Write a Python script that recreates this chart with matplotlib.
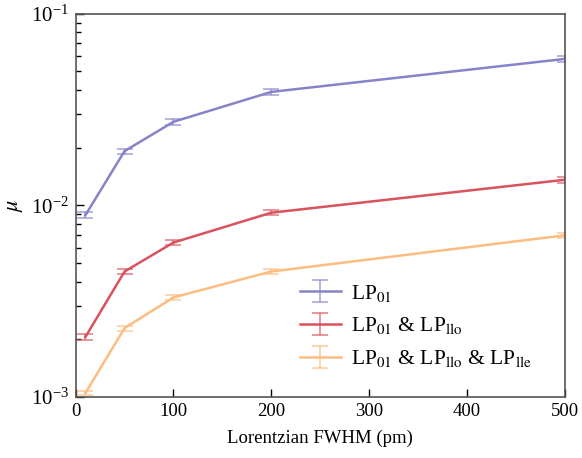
import matplotlib
matplotlib.use('Agg')
import matplotlib.pyplot as plt
import numpy as np

plt.rcParams['font.family'] = 'Liberation Serif'
plt.rcParams['mathtext.fontset'] = 'stix'
plt.rcParams['font.size'] = 13.5

# Lorentzian FWHM values (pm)
fwhm = [10, 50, 100, 200, 500]

# mu for each mode combination, with error bars
mu_lp01 = [0.0089, 0.0192, 0.0273, 0.0391, 0.0581]
err_lp01 = [0.0003, 0.0006, 0.0009, 0.0012, 0.0019]

mu_lp01_llo = [0.00206, 0.00452, 0.00640, 0.00916, 0.0136]
err_lp01_llo = [0.00007, 0.00014, 0.00020, 0.00028, 0.00044]

mu_all = [0.00105, 0.00229, 0.00331, 0.00452, 0.00698]
err_all = [0.00003, 0.00007, 0.00010, 0.00014, 0.00022]

labels = [r'LP$_{01}$', r'LP$_{01}$ & LP$_{\mathrm{llo}}$',
          r'LP$_{01}$ & LP$_{\mathrm{llo}}$ & LP$_{\mathrm{lle}}$']
colors = ['#8783c8', '#d9525e', '#fdbc80']

fig, ax = plt.subplots(figsize=(5.82, 4.58), dpi=100)

series = [(mu_lp01, err_lp01), (mu_lp01_llo, err_lp01_llo), (mu_all, err_all)]
for (y, e), c, lab in zip(series, colors, labels):
    eb = ax.errorbar(fwhm, y, yerr=e, color=c, lw=1.8, elinewidth=1.3,
                     capsize=5.5, capthick=1.3, label=lab)
    for part in eb[1] + eb[2]:
        part.set_alpha(0.65)

ax.set_yscale('log')
ax.set_xlim(0, 500)
ax.set_ylim(1e-3, 1e-1)
ax.set_xticks([0, 100, 200, 300, 400, 500])
ax.set_xlabel('Lorentzian FWHM (pm)', labelpad=7)
ax.set_ylabel(r'$\mu$', fontsize=16, labelpad=4)

ax.tick_params(which='both', direction='in', top=False, right=False)
ax.tick_params(which='major', length=6, width=1, labelsize=13.5)
ax.tick_params(axis='x', pad=4)
ax.tick_params(axis='y', pad=5, labelsize=15)
ax.tick_params(which='minor', length=3.5, width=1)
ax.xaxis.set_minor_locator(plt.NullLocator())
for s in ax.spines.values():
    s.set_color('#555555')
    s.set_linewidth(1.2)

ax.legend(loc='lower right', bbox_to_anchor=(0.972, 0.022), frameon=False,
          fontsize=15.5, handlelength=1.9, labelspacing=0.55, handletextpad=0.45)

fig.subplots_adjust(left=0.13, right=0.97, top=0.97, bottom=0.133)
fig.savefig('out.png', dpi=100)
